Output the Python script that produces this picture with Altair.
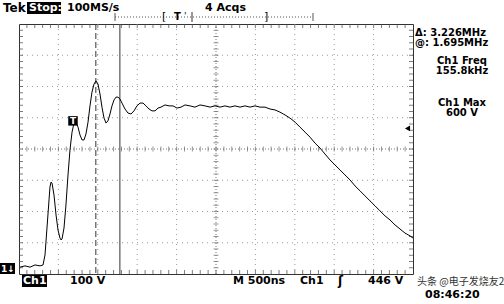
import altair as alt
import pandas as pd

# ---- waveform (time in ns from left edge of screen, voltage in V) ----
time_ns = [13, 76, 140, 203, 267, 305, 330, 355, 381, 393, 406, 419, 444, 470, 495, 520, 533, 546,
           571, 596, 622, 647, 673, 698, 723, 749, 774, 800, 825, 850, 876, 901, 926, 952, 977,
           1002, 1028, 1053, 1079, 1104, 1129, 1155, 1180, 1206, 1231, 1256, 1282, 1307, 1345,
           1383, 1421, 1459, 1497, 1536, 1574, 1612, 1650, 1688, 1726, 1764, 1802, 1853, 1904,
           1954, 2005, 2056, 2107, 2170, 2233, 2297, 2361, 2424, 2487, 2551, 2614, 2678, 2741,
           2805, 2868, 2932, 2995, 3058, 3122, 3185, 3249, 3312, 3376, 3439, 3503, 3566, 3630,
           3693, 3756, 3820, 3883, 3947, 4010, 4074, 4137, 4201, 4264, 4328, 4391, 4454, 4518,
           4581, 4645, 4708, 4772, 4835, 4898, 4962, 5000]
volts = [2, 6, 2, 9, 6, 9, 41, 127, 217, 258, 274, 271, 233, 169, 121, 95, 89, 92,
         127, 201, 297, 377, 434, 463, 466, 450, 425, 409, 409, 428, 466, 518, 562, 588, 598,
         588, 556, 514, 479, 463, 470, 492, 518, 537, 546, 546, 540, 527, 508,
         495, 492, 502, 518, 527, 527, 518, 508, 502, 502, 511, 514, 521, 518,
         518, 511, 514, 521, 518, 514, 521, 518, 514, 518, 514, 518, 514, 518,
         514, 518, 514, 518, 514, 514, 508, 505, 498, 489, 479, 466, 450, 434,
         418, 399, 383, 364, 345, 329, 313, 297, 281, 262, 246, 230, 214, 198,
         182, 166, 153, 137, 124, 111, 102, 95]

cursor_dashed_ns = [975]
cursor_solid_ns = [1280]
trigger_marker = {"t": [685], "v": [470]}
trigger_level_v = [446]

grid_t = [500, 1000, 1500, 2000, 3000, 3500, 4000, 4500]
grid_v = [80, 180, 280, 480, 580, 680]
center_t = [2500]
center_v = [380]
minor_t = list(range(100, 5000, 100))
minor_v = list(range(0, 780, 20))

header_texts = {"rate": "100MS/s", "acqs": "4 Acqs"}
readouts = ["Δ: 3.226MHz", "@: 1.695MHz", "Ch1 Freq", "155.8kHz", "Ch1 Max", "600 V"]
bottom_texts = ["100 V", "M 500ns", "Ch1", "ʃ", "446 V"]

W, H = 394, 250
L, T = 19, 24
FONT = "DejaVu Sans"
xs = alt.Scale(domain=[0, 5000], nice=False, zero=False)
ys = alt.Scale(domain=[-20, 780], nice=False, zero=False)
one = pd.DataFrame({"a": [0]})


def X(f):
    return alt.X(f, type="quantitative", scale=xs, axis=None)


def Y(f):
    return alt.Y(f, type="quantitative", scale=ys, axis=None)


def txt(s, px, py, size=11, bold=True, color="black", align="left", font=FONT):
    return alt.Chart(one).mark_text(
        text=s, align=align, baseline="middle", fontSize=size,
        fontWeight="bold" if bold else "normal", color=color, font=font
    ).encode(x=alt.value(px - L), y=alt.value(py - T))


def box(x0, y0, x1, y1, color="black"):
    return alt.Chart(one).mark_rect(color=color).encode(
        x=alt.value(x0 - L), x2=alt.value(x1 - L), y=alt.value(y0 - T), y2=alt.value(y1 - T))


def hline(x0, x1, py, dash=None, color="black"):
    kw = {"strokeDash": dash} if dash else {}
    return alt.Chart(one).mark_rule(color=color, strokeWidth=1, **kw).encode(
        x=alt.value(x0 - L), x2=alt.value(x1 - L), y=alt.value(py - T))


def vline(px, y0, y1, color="black"):
    return alt.Chart(one).mark_rule(color=color, strokeWidth=1).encode(
        x=alt.value(px - L), y=alt.value(y0 - T), y2=alt.value(y1 - T))


grid_col = "#9a9a9a"
layers = []
# grid
layers.append(alt.Chart(pd.DataFrame({"t": grid_t})).mark_rule(
    color=grid_col, strokeDash=[1, 4], strokeWidth=1).encode(x=X("t")))
layers.append(alt.Chart(pd.DataFrame({"v": grid_v})).mark_rule(
    color=grid_col, strokeDash=[1, 4], strokeWidth=1).encode(y=Y("v")))
# center cross
layers.append(alt.Chart(pd.DataFrame({"t": center_t})).mark_rule(
    color="#777", strokeDash=[1, 2], strokeWidth=1).encode(x=X("t")))
layers.append(alt.Chart(pd.DataFrame({"v": center_v})).mark_rule(
    color="#777", strokeDash=[1, 2], strokeWidth=1).encode(y=Y("v")))
# minor ticks on center lines
mt = pd.DataFrame({"t": minor_t, "v": [center_v[0]] * len(minor_t)})
mv = pd.DataFrame({"v": minor_v, "t": [center_t[0]] * len(minor_v)})
layers.append(alt.Chart(mt).mark_tick(orient="vertical", size=5, thickness=1, color="#666")
              .encode(x=X("t"), y=Y("v")))
layers.append(alt.Chart(mv).mark_tick(orient="horizontal", size=5, thickness=1, color="#666")
              .encode(x=X("t"), y=Y("v")))
# border ticks
bt = pd.DataFrame({"t": minor_t, "top": [780] * len(minor_t), "bot": [-20] * len(minor_t)})
bv = pd.DataFrame({"v": minor_v, "lft": [0] * len(minor_v), "rgt": [5000] * len(minor_v)})
layers.append(alt.Chart(bt).mark_tick(orient="vertical", size=4, thickness=1, color="#444", yOffset=2)
              .encode(x=X("t"), y=Y("top")))
layers.append(alt.Chart(bt).mark_tick(orient="vertical", size=4, thickness=1, color="#444", yOffset=-2)
              .encode(x=X("t"), y=Y("bot")))
layers.append(alt.Chart(bv).mark_tick(orient="horizontal", size=4, thickness=1, color="#444", xOffset=2)
              .encode(x=X("lft"), y=Y("v")))
layers.append(alt.Chart(bv).mark_tick(orient="horizontal", size=4, thickness=1, color="#444", xOffset=-2)
              .encode(x=X("rgt"), y=Y("v")))
# cursors
layers.append(alt.Chart(pd.DataFrame({"t": cursor_dashed_ns})).mark_rule(
    color="#333", strokeDash=[6, 3], strokeWidth=1).encode(x=X("t")))
layers.append(alt.Chart(pd.DataFrame({"t": cursor_solid_ns})).mark_rule(
    color="#555", strokeWidth=1.2).encode(x=X("t")))
# waveform
wave = pd.DataFrame({"t": time_ns, "v": volts})
layers.append(alt.Chart(wave).mark_line(color="black", strokeWidth=1, interpolate="linear")
              .encode(x=X("t"), y=Y("v"), order="t:Q"))
# trigger marker
tm = pd.DataFrame(trigger_marker)
layers.append(alt.Chart(tm).mark_square(size=90, color="black", opacity=1).encode(x=X("t"), y=Y("v")))
layers.append(alt.Chart(tm).mark_text(text="T", color="white", fontSize=9, fontWeight="bold", font=FONT,
                                      baseline="middle", align="center").encode(x=X("t"), y=Y("v")))
# trigger level arrow
ta = pd.DataFrame({"t": [4930], "v": trigger_level_v})
layers.append(alt.Chart(ta).mark_point(shape="triangle-left", filled=True, size=35, color="black", opacity=1)
              .encode(x=X("t"), y=Y("v")))

# header
layers.append(txt("Tek", 3, 8, size=12))
layers.append(box(27, 2, 61, 14))
layers.append(txt("Stop:", 29, 8, size=11, color="white"))
layers.append(txt(header_texts["rate"], 67, 8, size=11))
layers.append(txt(header_texts["acqs"], 205, 8, size=11))
layers.append(hline(115, 313, 17, dash=[1, 2], color="#555"))
layers.append(vline(115, 13, 21, color="#555"))
layers.append(vline(313, 13, 21, color="#555"))
layers.append(txt("[", 162, 17, size=11, bold=False))
layers.append(txt("T", 174, 17, size=10))
layers.append(txt("'", 184, 16, size=9, bold=False))
layers.append(vline(192, 12, 22, color="#333"))
layers.append(txt("]", 264, 17, size=11, bold=False))

# right readouts
layers.append(txt(readouts[0], 415, 33, size=10))
layers.append(txt(readouts[1], 415, 43, size=10))
layers.append(txt(readouts[2], 462, 61, size=10, align="center"))
layers.append(txt(readouts[3], 462, 71, size=10, align="center"))
layers.append(txt(readouts[4], 462, 103, size=10, align="center"))
layers.append(txt(readouts[5], 462, 113, size=10, align="center"))

# bottom
layers.append(box(0, 263, 15, 274))
layers.append(txt("1↓", 1, 268.5, size=9, color="white"))
layers.append(box(22, 275, 47, 287))
layers.append(txt("Ch1", 23, 281, size=11, color="white"))
layers.append(txt(bottom_texts[0], 70, 281, size=11))
layers.append(txt(bottom_texts[1], 233, 281, size=11))
layers.append(txt(bottom_texts[2], 300, 281, size=11))
layers.append(txt(bottom_texts[3], 338, 281, size=12))
layers.append(txt(bottom_texts[4], 368, 281, size=11))
layers.append(txt("头条 @电子发烧友2", 417, 282, size=10, bold=False, color="#333",
                  font="Noto Sans CJK SC"))
layers.append(txt("08:46:20", 425, 295, size=11))

chart = alt.layer(*layers).properties(
    width=W, height=H,
    padding={"left": L, "top": T, "right": 504 - L - W, "bottom": 304 - T - H},
    autosize="none", background="white",
).configure_view(stroke="#333", strokeWidth=1)

chart.save("out.html", embed_options={"renderer": "svg", "actions": False})
